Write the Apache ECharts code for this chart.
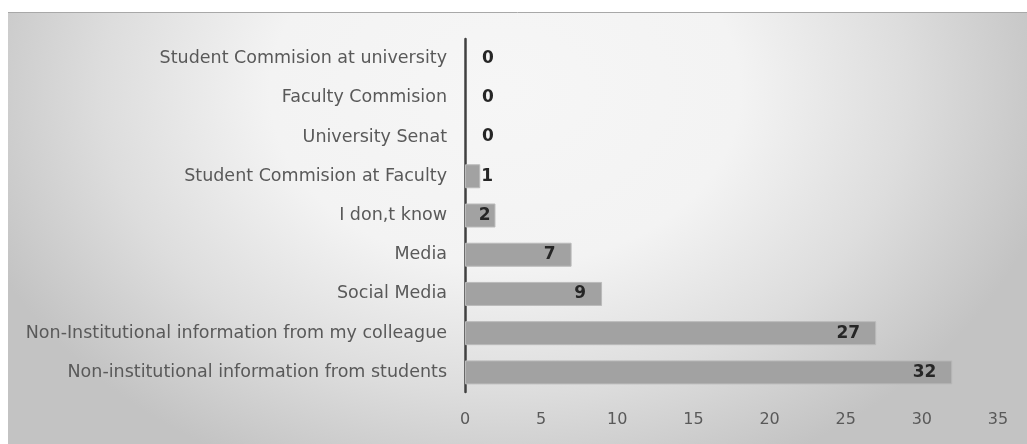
<!DOCTYPE html>
<html>
<head>
<meta charset="utf-8">
<script src="https://cdn.jsdelivr.net/npm/echarts@6/dist/echarts.min.js"></script>
<style>
  html, body { margin: 0; padding: 0; background: #ffffff; }
  #chart { width: 1027px; height: 444px; }
</style>
</head>
<body>
<div id="chart"></div>
<script>
// Sources of information (bottom-to-top order on the category axis)
const categories = [
  'Non-institutional information from students',
  'Non-Institutional information from my colleague',
  'Social Media',
  'Media',
  'I don,t know',
  'Student Commision at Faculty',
  'University Senat',
  'Faculty Commision',
  'Student Commision at university'
];
const counts = [32, 27, 9, 7, 2, 1, 0, 0, 0];
const xTicks = { min: 0, max: 35, interval: 5 };

const chart = echarts.init(document.getElementById('chart'), null, { renderer: 'canvas' });

// Short bars get their number just past the bar end; longer ones inside it.
const barData = counts.map(v => {
  if (v === 0) return { value: v, itemStyle: { borderWidth: 0 }, label: { position: 'right', distance: 17 } };
  if (v === 1) return { value: v, label: { position: 'right', distance: 1 } };
  if (v === 2) return { value: v, label: { position: 'insideRight', distance: 5 } };
  return { value: v, label: { position: 'insideRight', distance: 16 } };
});

// Plot-area backdrop: an elliptical light patch near the top centre fading to grey.
const bgScaleY = 0.75;
const bgTop = 12, bgHeight = 432;

chart.setOption({
  backgroundColor: '#ffffff',
  animation: false,
  graphic: [
    {
      type: 'rect',
      z: -10,
      silent: true,
      scaleY: bgScaleY,
      originX: 0, originY: 0,
      shape: { x: 8, y: bgTop / bgScaleY, width: 1019, height: bgHeight / bgScaleY },
      style: {
        fill: {
          type: 'radial', global: true, x: 505, y: 90 / bgScaleY, r: 560,
          colorStops: [
            { offset: 0, color: '#f6f6f6' },
            { offset: 0.42, color: '#f3f3f3' },
            { offset: 0.72, color: '#dddddd' },
            { offset: 1, color: '#c3c3c3' }
          ]
        },
        stroke: null
      }
    },
    {
      type: 'line',
      z: -9,
      silent: true,
      shape: { x1: 8, y1: 12.5, x2: 1027, y2: 12.5 },
      style: { stroke: '#a8a8a8', lineWidth: 1 }
    }
  ],
  grid: { left: 465, right: 29, top: 39, bottom: 52, containLabel: false },
  xAxis: {
    type: 'value',
    min: xTicks.min, max: xTicks.max, interval: xTicks.interval,
    axisLine: { show: false },
    axisTick: { show: false },
    splitLine: { show: false },
    axisLabel: {
      color: '#595959', fontFamily: 'DejaVu Sans', fontSize: 16, margin: 20
    }
  },
  yAxis: {
    type: 'category',
    data: categories,
    axisLine: { show: true, lineStyle: { color: '#404040', width: 2.5 } },
    axisTick: { show: false },
    axisLabel: {
      color: '#595959', fontFamily: 'DejaVu Sans', fontSize: 17.5, margin: 18
    }
  },
  series: [{
    type: 'bar',
    data: barData,
    barWidth: 24,
    itemStyle: { color: '#a2a2a2', borderColor: '#bababa', borderWidth: 1 },
    label: {
      show: true,
      color: '#262626',
      fontFamily: 'DejaVu Sans',
      fontWeight: 'bold',
      fontSize: 17
    }
  }]
});
</script>
</body>
</html>
